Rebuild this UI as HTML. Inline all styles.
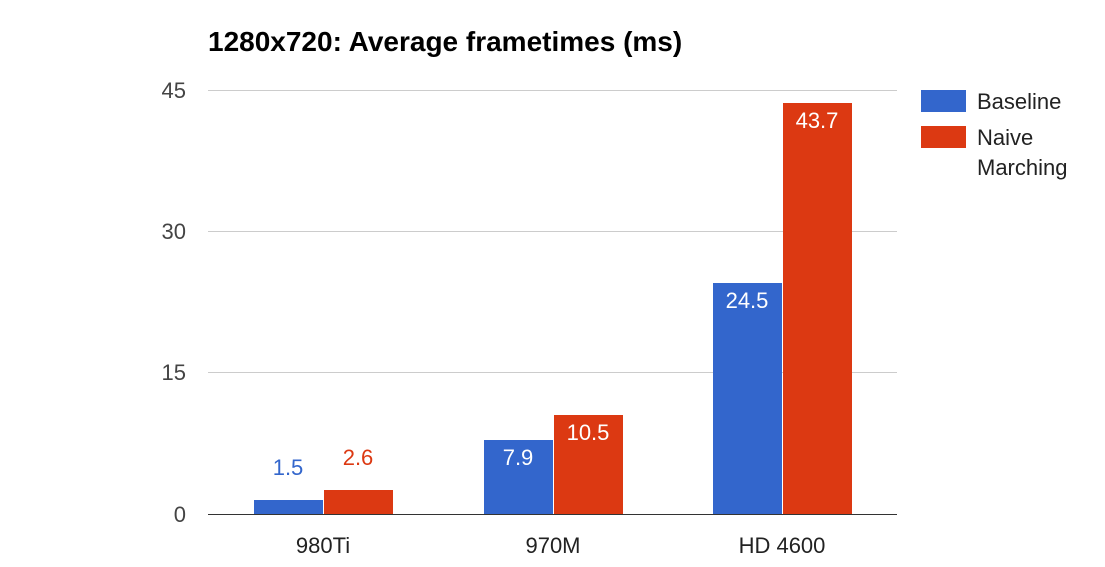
<!DOCTYPE html>
<html><head><meta charset="utf-8"><style>body{margin:0;background:#fff}svg{display:block}text{font-family:"Liberation Sans",Arial,sans-serif}</style></head><body>
<svg width="1105" height="567" viewBox="0 0 1105 567">
<rect width="1105" height="567" fill="#fff"/>
<text x="208" y="51" font-size="28" font-weight="bold" fill="#000">1280x720: Average frametimes (ms)</text>
<g stroke="#cccccc" stroke-width="1">
<line x1="208" y1="90.5" x2="897" y2="90.5"/>
<line x1="208" y1="231.5" x2="897" y2="231.5"/>
<line x1="208" y1="372.5" x2="897" y2="372.5"/>
</g>
<g font-size="22" fill="#444" text-anchor="end">
<text x="186" y="98">45</text>
<text x="186" y="239">30</text>
<text x="186" y="380">15</text>
<text x="186" y="522">0</text>
</g>
<g fill="#3366cc">
<rect x="254" y="500" width="69" height="14"/>
<rect x="484" y="440" width="69" height="74"/>
<rect x="713" y="283" width="69" height="231"/>
</g>
<g fill="#dc3912">
<rect x="324" y="490" width="69" height="24"/>
<rect x="554" y="415" width="69" height="99"/>
<rect x="783" y="103" width="69" height="411"/>
</g>
<line x1="208" y1="514.5" x2="897" y2="514.5" stroke="#333" stroke-width="1"/>
<g font-size="22" text-anchor="middle">
<text x="288" y="475" fill="#3366cc">1.5</text>
<text x="358" y="465" fill="#dc3912">2.6</text>
<text x="518" y="465" fill="#fff">7.9</text>
<text x="588" y="440" fill="#fff">10.5</text>
<text x="747" y="308" fill="#fff">24.5</text>
<text x="817" y="128" fill="#fff">43.7</text>
</g>
<g font-size="22" fill="#222" text-anchor="middle">
<text x="323" y="553">980Ti</text>
<text x="553" y="553">970M</text>
<text x="782" y="553">HD 4600</text>
</g>
<rect x="921" y="90" width="45" height="22" fill="#3366cc"/>
<rect x="921" y="126" width="45" height="22" fill="#dc3912"/>
<g font-size="22" fill="#222">
<text x="977" y="109">Baseline</text>
<text x="977" y="145">Naive</text>
<text x="977" y="175">Marching</text>
</g>
</svg>
</body></html>
